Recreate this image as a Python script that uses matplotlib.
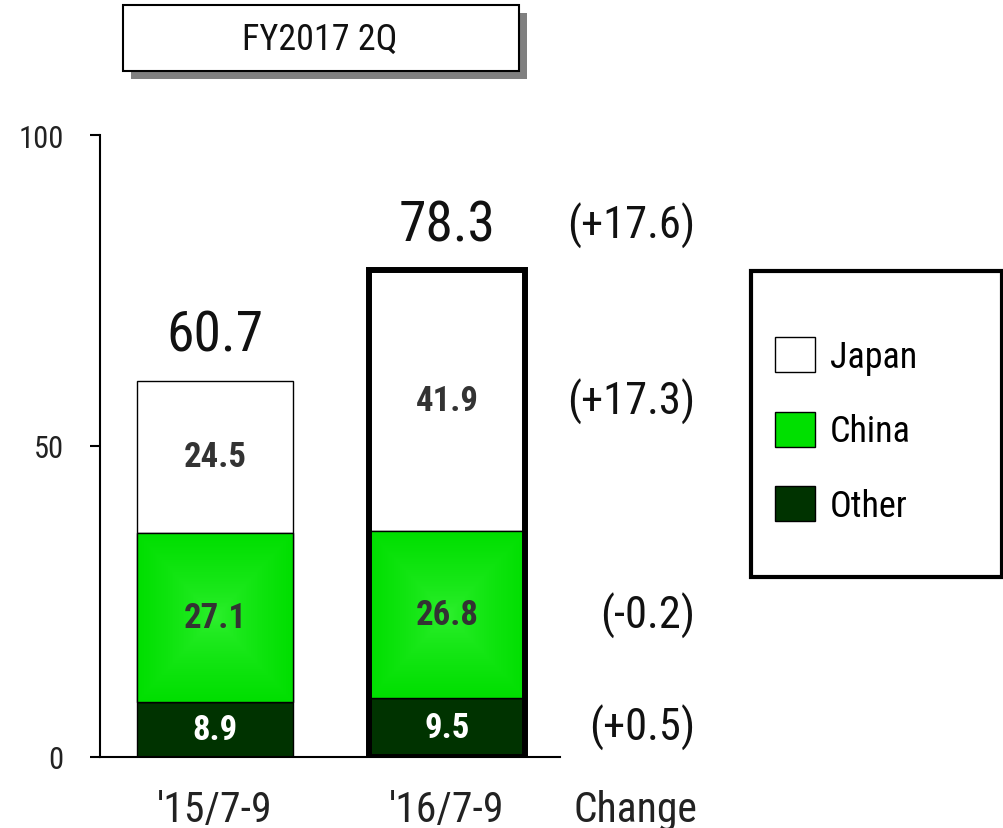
import numpy as np
import matplotlib
matplotlib.use("Agg")
import matplotlib.pyplot as plt
from matplotlib.patches import Rectangle
from matplotlib import font_manager

# ---------------- data ----------------
periods = ["\u203215/7-9", "\u203216/7-9"]
regions = ["Japan", "China", "Other"]
japan = [24.5, 41.9]
china = [27.1, 26.8]
other = [8.9, 9.5]
totals = [60.7, 78.3]
change_labels = ["(+17.6)", "(+17.3)", "(-0.2)", "(+0.5)"]
change_title = "Change"
title_text = "FY2017 2Q"
yticks = [0, 50, 100]

# ---------------- fonts ----------------
names = {f.name for f in font_manager.fontManager.ttflist}
prefs = ["Liberation Sans Narrow", "Arial Narrow", "Roboto Condensed", "Archivo Narrow",
         "PT Sans Narrow", "Fira Sans Condensed", "IBM Plex Sans Condensed", "Liberation Sans"]
base = next((p for p in prefs if p in names), "DejaVu Sans")
FAM = [base, "DejaVu Sans"]
plt.rcParams["font.family"] = FAM

W, H = 1004, 829
fig = plt.figure(figsize=(W / 100, H / 100), dpi=100)

def fx(px):
    return px / W

def fy(py):
    return 1 - py / H

# axes: x px = 215 + 232*x ; y: 0 -> 758 px, 100 -> 136 px
ax_left, ax_right = 100, 720
ax = fig.add_axes([fx(ax_left), fy(758), fx(ax_right - ax_left), fy(136) - fy(758)])

x = np.arange(len(periods))
width = 156 / 232

c_japan = "#FFFFFF"
c_china = "#00E000"
c_other = "#003300"

b_other = ax.bar(x, other, width, color=c_other, edgecolor="black", lw=1.0, zorder=2)
bottom2 = np.array(other)
b_china = ax.bar(x, china, width, bottom=bottom2, color=c_china, edgecolor="black", lw=1.0, zorder=2)
bottom3 = bottom2 + np.array(china)
b_japan = ax.bar(x, japan, width, bottom=bottom3, color=c_japan, edgecolor="black", lw=1.0, zorder=2)

# rectangular gradient on China segments
n = 200
yy, xx = np.mgrid[-1:1:n * 1j, -1:1:n * 1j]
r = np.maximum(np.abs(xx), np.abs(yy))
r = np.clip(r, 0, 1) ** 0.7
cen = np.array([0x30, 0xF0, 0x30]) / 255
edg = np.array([0x00, 0xDF, 0x00]) / 255
img = cen[None, None, :] * (1 - r[..., None]) + edg[None, None, :] * r[..., None]
for p in b_china.patches:
    x0, y0 = p.get_xy()
    im = ax.imshow(img, extent=(x0, x0 + p.get_width(), y0, y0 + p.get_height()),
                   aspect="auto", zorder=2.5, interpolation="bilinear")
    im.set_clip_path(p)
ax.bar(x, china, width, bottom=bottom2, fill=False, edgecolor="black", lw=1.0, zorder=3)
ax.set_xlim((ax_left - 215) / 232, (ax_right - 215) / 232)
ax.set_ylim(0, 100)

# thick border around the current period
ax.bar(x[1], totals[1], width, fill=False, edgecolor="black", lw=4.3, zorder=4)

# segment labels
lab_kw = dict(ha="center", va="center", fontsize=25, fontweight="bold", zorder=6)
for i in range(len(x)):
    ax.text(x[i], other[i] / 2, f"{other[i]:.1f}", color="white", **lab_kw)
    ax.text(x[i], bottom2[i] + china[i] / 2, f"{china[i]:.1f}", color="#333333", **lab_kw)
    ax.text(x[i], bottom3[i] + japan[i] / 2, f"{japan[i]:.1f}", color="#333333", **lab_kw)
    ax.annotate(f"{totals[i]:.1f}", (x[i], totals[i]), xytext=(0, 21), textcoords="offset points",
                ha="center", va="baseline", fontsize=40, color="#111111")

# change column
xc = (695 - 215) / 232
ys_change = [totals[1], bottom3[1] + japan[1] / 2, bottom2[1] + china[1] / 2, other[1] / 2]
for k, (lab, yv) in enumerate(zip(change_labels, ys_change)):
    if k == 0:
        ax.annotate(lab, (xc, yv), xytext=(0, 23), textcoords="offset points",
                    ha="right", va="baseline", fontsize=32, color="#111111")
    else:
        ax.text(xc, yv, lab, ha="right", va="center", fontsize=32, color="#111111")

# axes styling
for s in ["top", "right"]:
    ax.spines[s].set_visible(False)
ax.spines["left"].set_linewidth(1.5)
ax.spines["bottom"].set_linewidth(1.5)
ax.spines["left"].set_bounds(0, 100)
ax.spines["bottom"].set_bounds((ax_left - 215) / 232, (560 - 215) / 232)
ax.set_yticks(yticks)
ax.set_yticklabels([str(t) for t in yticks])
ax.tick_params(axis="y", length=7.2, width=1.5, pad=19, labelsize=22, labelcolor="#222222")
ax.set_xticks(list(x) + [(635 - 215) / 232])
ax.set_xticklabels(periods + [change_title])
ax.tick_params(axis="x", length=0, pad=23, labelsize=30, labelcolor="#222222")

# title box with shadow
fig.add_artist(Rectangle((fx(131), fy(80)), fx(396), fy(0) - fy(66), transform=fig.transFigure,
                         facecolor="#808080", edgecolor="none", zorder=1))
fig.add_artist(Rectangle((fx(123), fy(72)), fx(396), fy(0) - fy(66), transform=fig.transFigure,
                         facecolor="white", edgecolor="black", lw=1.5, zorder=2))
fig.text(fx(320), fy(40), title_text, ha="center", va="center", fontsize=26, color="#111111", zorder=3)

# legend frame and legend
fig.add_artist(Rectangle((fx(751), fy(578)), fx(251), fy(0) - fy(306), transform=fig.transFigure,
                         facecolor="white", edgecolor="black", lw=3.0, zorder=1))
leg = fig.legend([b_japan.patches[0], b_china.patches[0], b_other.patches[0]], regions,
                 loc="upper left", bbox_to_anchor=(fx(775), fy(338)), frameon=False,
                 fontsize=26, handlelength=1.12, handleheight=1.12, handletextpad=0.4,
                 labelspacing=1.02, borderpad=0, borderaxespad=0)
leg.set_zorder(5)

fig.savefig("out.png", dpi=100)
